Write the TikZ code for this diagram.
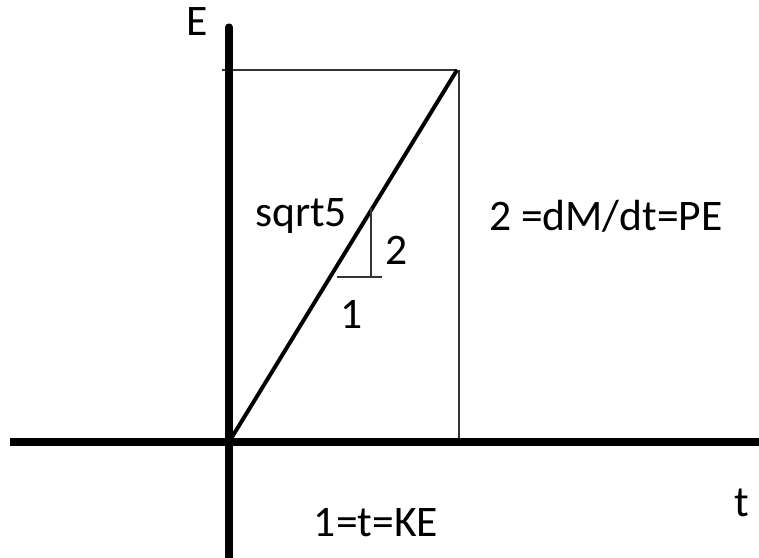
\documentclass[tikz,border=0pt]{standalone}
\usepackage{fontspec}
\setmainfont{Carlito}
\usepackage{tikz}
\usetikzlibrary{positioning}

\begin{document}
\begin{tikzpicture}[
    x=0.025cm, y=-0.025cm,
    axis/.style={line width=5pt, black},
    thinline/.style={line width=0.8pt, black!80},
    slope/.style={line width=2.8pt, black},
    lbl/.style={inner sep=0pt, font=\fontsize{31}{36}\selectfont}
]
\useasboundingbox (0,0) rectangle (759,558);

% axes
\coordinate (O) at (229,442);
\coordinate (yTop) at (229,27);
\coordinate (yBot) at (229,558);
\coordinate (xLeft) at (10,442);
\coordinate (xRight) at (759,442);
\coordinate (P) at (457,70);
\coordinate (Pfoot) at (459,442);
\coordinate (Pleft) at (222,70);

\draw[thinline] (Pleft) -- (P);
\draw[thinline] (459,70) -- (Pfoot);
\draw[axis, line cap=round] (yTop) -- (229,300);
\draw[axis] (229,300) -- (yBot);
\draw[axis] (xLeft) -- (xRight);
\draw[slope] (O) -- (P);

% little slope triangle
\coordinate (triTop) at (371,208);
\coordinate (triCorner) at (371,277);
\coordinate (triLeft) at (337,277);
\coordinate (triRight) at (382,277);
\draw[thinline] (triTop) -- (triCorner);
\draw[thinline] (triLeft) -- (triRight);

% labels
\node[lbl] (eLabel) at (197,22) {E};
\node[lbl] (tLabel) at (742,503) {t};
\node[lbl] (hypLabel) at (301,216) {sqrt5};
\node[lbl] (riseLabel) at (397,250) {2};
\node[lbl] (runLabel) at (352,314) {1};
\node[lbl] (peLabel) at (606,216) {2 =dM/dt=PE};
\node[lbl] (keLabel) at (376,523) {1=t=KE};
\end{tikzpicture}
\end{document}
